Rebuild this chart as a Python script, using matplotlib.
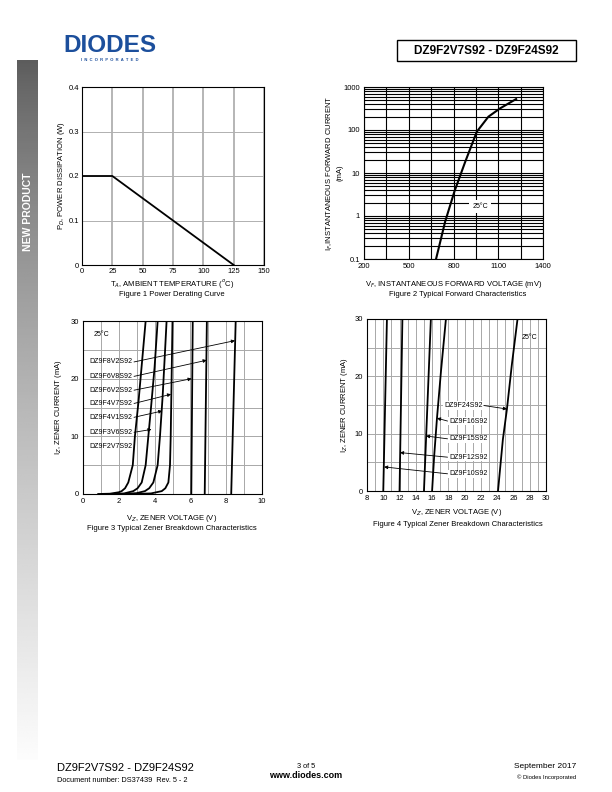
import numpy as np
import matplotlib
matplotlib.use("Agg")
import matplotlib.pyplot as plt
from matplotlib.patches import Rectangle

plt.rcParams['font.family'] = ['Liberation Sans', 'DejaVu Sans']

W, H = 612, 792

# ---- data ----
# Figure 1: power derating
temp = [0, 25, 125]
power = [0.2, 0.2, 0.0]

# Figure 2: forward characteristics (mV, mA)
vf = [683, 744, 806, 878, 956, 1034, 1112, 1220]
if_ma = [0.1, 0.74, 3.7, 18, 91, 204, 318, 525]

# Figure 3: zener curves (V, mA)
z_lo = {
    'DZ9F2V7S92': ([0.85, 1.5, 2.0, 2.16, 2.35, 2.53, 2.78, 2.9, 3.1, 3.3, 3.5],
                   [0, 0.05, 0.3, 0.5, 1.0, 2, 5, 10, 16, 23, 30]),
    'DZ9F3V6S92': ([1.6, 2.3, 2.81, 3.05, 3.28, 3.5, 3.65, 3.8, 4.0, 4.17],
                   [0, 0.1, 0.5, 1.0, 2, 5, 10, 15, 22, 30]),
    'DZ9F4V1S92': ([2.2, 3.0, 3.46, 3.7, 3.93, 4.17, 4.3, 4.45, 4.57, 4.67],
                   [0, 0.15, 0.5, 1.0, 2, 5, 10, 17, 24, 30]),
    'DZ9F4V7S92': ([2.8, 3.8, 4.4, 4.6, 4.77, 4.86, 4.9, 4.95, 5.0],
                   [0, 0.1, 0.5, 1.0, 2, 5, 10, 20, 30]),
    'DZ9F6V2S92': ([6.05, 6.13], [0, 30]),
    'DZ9F6V8S92': ([6.8, 6.92], [0, 30]),
    'DZ9F8V2S92': ([8.28, 8.53], [0, 30]),
}
# label (y in mA) and arrow target (V, mA)
z_lo_labels = [
    ('DZ9F8V2S92', 22.9, (8.49, 26.6)),
    ('DZ9F6V8S92', 20.4, (6.91, 23.2)),
    ('DZ9F6V2S92', 18.0, (6.07, 20.0)),
    ('DZ9F4V7S92', 15.7, (4.92, 17.3)),
    ('DZ9F4V1S92', 13.3, (4.43, 14.4)),
    ('DZ9F3V6S92', 10.7, (3.83, 11.2)),
    ('DZ9F2V7S92', 8.2, None),
]

# Figure 4: higher voltage zener curves
z_hi = {
    'DZ9F10S92': ([10.0, 10.45], [0, 30]),
    'DZ9F12S92': ([12.0, 12.35], [0, 30]),
    'DZ9F15S92': ([15.0, 15.85], [0, 30]),
    'DZ9F16S92': ([16.0, 16.25, 16.6, 17.1, 17.7], [0, 6, 12.7, 21, 30]),
    'DZ9F24S92': ([24.1, 24.7, 25.2, 25.8, 26.5], [0, 9, 14.3, 22, 30]),
}
z_hi_labels = [
    ('DZ9F24S92', 14.9, (25.2, 14.3)),
    ('DZ9F16S92', 12.2, (16.6, 12.7)),
    ('DZ9F15S92', 9.1, (15.25, 9.6)),
    ('DZ9F12S92', 5.9, (12.05, 6.7)),
    ('DZ9F10S92', 3.0, (10.1, 4.2)),
]


def fx(x):
    return x / W


def fy(y):
    return 1 - y / H


def add_ax(l, t, r, b):
    return fig.add_axes([fx(l), fy(b), (r - l) / W, (b - t) / H])


def ftext(x, y, s, **kw):
    fig.text(fx(x), fy(y), s, **kw)


fig = plt.figure(figsize=(6.12, 7.92), dpi=100)

# side bar gradient
bar = add_ax(17, 60, 38, 760)
grad = np.linspace(0, 1, 256) ** 0.8
bar.imshow((0.36 + 0.63 * grad)[:, None], cmap='gray', vmin=0, vmax=1,
           aspect='auto', extent=[0, 1, 0, 1])
bar.axis('off')
ftext(28, 212, 'NEW PRODUCT', rotation=90, color='white', fontsize=7.5,
      fontweight='bold', ha='center', va='center')

# logo
ftext(110, 46, 'DIODES', color='#1c4f9c', fontsize=17.5, fontweight='bold',
      ha='center', va='center')
ftext(110, 60, 'I  N  C  O  R  P  O  R  A  T  E  D', color='#1c4f9c',
      fontsize=3, fontweight='bold', ha='center', va='center')

# title box
fig.patches.append(Rectangle((fx(397), fy(61)), 179 / W, 21 / H,
                             transform=fig.transFigure, fill=False,
                             edgecolor='black', linewidth=1))
ftext(486.5, 50.5, 'DZ9F2V7S92 - DZ9F24S92', fontsize=8.5, fontweight='bold',
      ha='center', va='center')

tick_fs = 5.5
lab_fs = 5.5

# ---- Figure 1 ----
ax1 = add_ax(82, 87, 264, 265)
ax1.plot(temp, power, color='black', lw=1.3)
ax1.set_xlim(0, 150)
ax1.set_ylim(0, 0.4)
ax1.set_xticks([0, 25, 50, 75, 100, 125, 150])
ax1.set_yticks([0, 0.1, 0.2, 0.3, 0.4])
ax1.set_yticklabels(['0', '0.1', '0.2', '0.3', '0.4'])
ax1.grid(True, axis='x', color='#b0b0b0', lw=1.3)
ax1.grid(True, axis='y', color='#b0b0b0', lw=0.7)
ax1.tick_params(length=0, labelsize=tick_fs, pad=2)
ax1.set_ylabel('P$_D$, POWER DISSIPATION (W)', fontsize=lab_fs, labelpad=1)
ftext(172, 284, 'T$_A$, AMBIENT TEMPERATURE ($^o$C)', fontsize=lab_fs,
      ha='center', va='center')
ftext(172, 294, 'Figure 1 Power Derating Curve', fontsize=5.5, ha='center', va='center')

# ---- Figure 2 ----
ax2 = add_ax(364, 87, 543, 259)
ax2.set_yscale('log')
ax2.plot(vf, if_ma, color='black', lw=1.5)
ax2.set_xlim(200, 1400)
ax2.set_ylim(0.1, 1000)
ax2.set_xticks(np.arange(200, 1401, 150), minor=False)
ax2.set_xticklabels(['200', '', '500', '', '800', '', '1100', '', '1400'])
ax2.set_yticks([0.1, 1, 10, 100, 1000])
ax2.set_yticklabels(['0.1', '1', '10', '100', '1000'])
ax2.grid(True, which='both', color='black', lw=0.8)
ax2.tick_params(which='both', length=0, labelsize=tick_fs, pad=3)
ax2.text(978, 1.64, '25°C', fontsize=5, ha='center', va='center',
         bbox=dict(facecolor='white', edgecolor='none', pad=2))
ax2.set_ylabel('I$_F$,INSTANTANEOUS FORWARD CURRENT\n(mA)', fontsize=lab_fs, labelpad=0)
ftext(454, 285, 'V$_F$, INSTANTANEOUS FORWARD VOLTAGE (mV)', fontsize=lab_fs,
      ha='center', va='center')
ftext(458, 294.5, 'Figure 2 Typical Forward Characteristics', fontsize=5.5,
      ha='center', va='center')

arrow = dict(arrowstyle='-|>', color='black', lw=0.6, mutation_scale=5,
             shrinkA=0, shrinkB=0)

# ---- Figure 3 ----
ax3 = add_ax(83, 321, 262, 494)
for name, (xs, ys) in z_lo.items():
    ax3.plot(xs, ys, color='black', lw=1.3)
ax3.set_xlim(0, 10)
ax3.set_ylim(0, 30)
ax3.set_xticks(np.arange(0, 11, 2))
ax3.set_xticks(np.arange(0, 11, 1), minor=True)
ax3.set_yticks([0, 10, 20, 30])
ax3.set_yticks(np.arange(0, 31, 5), minor=True)
ax3.grid(True, which='both', color='#a8a8a8', lw=0.7)
ax3.tick_params(which='both', length=0, labelsize=tick_fs, pad=3)
for name, ly, tgt in z_lo_labels:
    ax3.text(2.75, ly, name, fontsize=5, ha='right', va='center')
    if tgt is not None:
        ax3.annotate('', xy=tgt, xytext=(2.85, ly), arrowprops=arrow)
ax3.text(1.04, 27.7, '25°C', fontsize=5, ha='center', va='center')
ax3.set_ylabel('I$_Z$, ZENER CURRENT (mA)', fontsize=lab_fs, labelpad=5)
ftext(172, 518, 'V$_Z$, ZENER VOLTAGE (V)', fontsize=lab_fs, ha='center', va='center')
ftext(172, 529, 'Figure 3 Typical Zener Breakdown Characteristics', fontsize=5.5,
      ha='center', va='center')

# ---- Figure 4 ----
ax4 = add_ax(367, 319, 546, 491)
for name, (xs, ys) in z_hi.items():
    ax4.plot(xs, ys, color='black', lw=1.3)
ax4.set_xlim(8, 30)
ax4.set_ylim(0, 30)
ax4.set_xticks(np.arange(8, 31, 2))
ax4.set_xticks(np.arange(8, 31, 1), minor=True)
ax4.set_yticks([0, 10, 20, 30])
ax4.set_yticks(np.arange(0, 31, 5), minor=True)
ax4.grid(True, which='both', color='#a8a8a8', lw=0.7)
ax4.tick_params(which='both', length=0, labelsize=tick_fs, pad=3)
for name, ly, tgt in z_hi_labels:
    if tgt[0] > 20:
        ax4.text(22.2, ly, name, fontsize=5, ha='right', va='center',
                 bbox=dict(facecolor='white', edgecolor='none', pad=0.5))
        ax4.annotate('', xy=tgt, xytext=(22.4, ly), arrowprops=arrow)
    else:
        ax4.text(18.1, ly, name, fontsize=5, ha='left', va='center',
                 bbox=dict(facecolor='white', edgecolor='none', pad=0.5))
        ax4.annotate('', xy=tgt, xytext=(17.9, ly), arrowprops=arrow)
ax4.text(28.0, 26.8, '25°C', fontsize=5, ha='center', va='center')
ax4.set_ylabel('I$_Z$, ZENER CURRENT (mA)', fontsize=lab_fs, labelpad=3)
ftext(457, 513, 'V$_Z$, ZENER VOLTAGE (V)', fontsize=lab_fs, ha='center', va='center')
ftext(458, 524, 'Figure 4 Typical Zener Breakdown Characteristics', fontsize=5.5,
      ha='center', va='center')

# ---- footer ----
ftext(57, 768, 'DZ9F2V7S92 - DZ9F24S92', fontsize=8, ha='left', va='center')
ftext(57, 781, 'Document number: DS37439  Rev. 5 - 2', fontsize=5.3, ha='left', va='center')
ftext(306, 766, '3 of 5', fontsize=5.3, ha='center', va='center')
ftext(306, 776, 'www.diodes.com', fontsize=6.5, fontweight='bold', ha='center', va='center')
ftext(576, 767, 'September 2017', fontsize=6, ha='right', va='center')
ftext(576, 777, '© Diodes Incorporated', fontsize=4.2, ha='right', va='center')

fig.savefig('out.png', dpi=100)
